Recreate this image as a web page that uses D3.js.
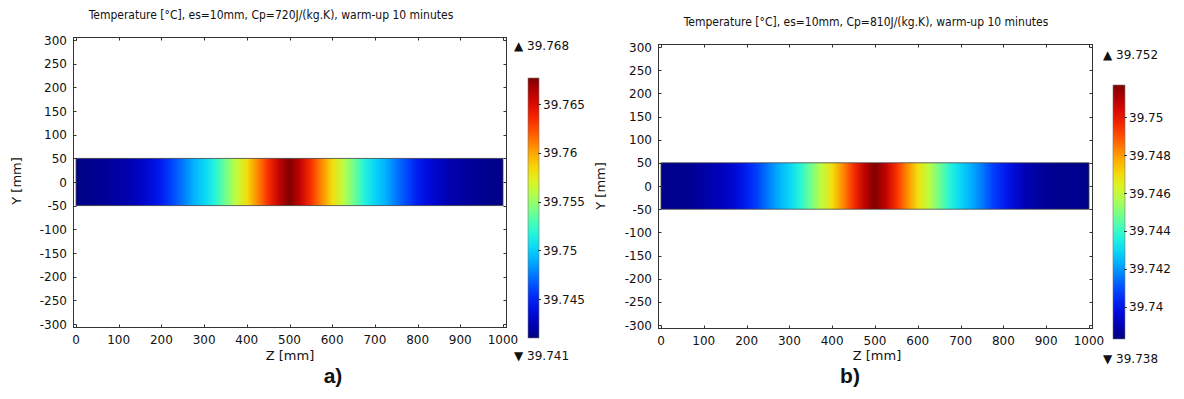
<!DOCTYPE html>
<html><head><meta charset="utf-8">
<script src="https://cdn.jsdelivr.net/npm/d3@7"></script>
<style>body{margin:0;background:#fff}svg{display:block}</style>
</head><body>
<svg id="c" width="1184" height="399"></svg>
<script>
// ---- data ----
const zPos = [0,25,50,75,100,125,150,175,200,225,250,275,300,325,350,375,400,425,450,475,500,
  525,550,575,600,625,650,675,700,725,750,775,800,825,850,875,900,925,950,975,1000];
const tempA = [39.7413,39.7413,39.7415,39.7417,39.7420,39.7423,39.7429,39.7437,39.7447,39.7461,39.7475,
  39.7490,39.7501,39.7517,39.7540,39.7561,39.7582,39.7608,39.7633,39.7658,39.7677,
  39.7658,39.7633,39.7608,39.7582,39.7561,39.7540,39.7517,39.7501,39.7490,39.7475,
  39.7461,39.7447,39.7437,39.7429,39.7423,39.7420,39.7417,39.7415,39.7413,39.7413];
const tempB = [39.7384,39.7385,39.7385,39.7386,39.7388,39.7390,39.7392,39.7396,39.7402,39.7408,39.7416,
  39.7423,39.7429,39.7437,39.7448,39.7459,39.7469,39.7482,39.7495,39.7508,39.7517,
  39.7508,39.7495,39.7482,39.7469,39.7459,39.7448,39.7437,39.7429,39.7423,39.7416,
  39.7408,39.7402,39.7396,39.7390,39.7388,39.7386,39.7385,39.7385,39.7385,39.7384];
const xTicks = [0,100,200,300,400,500,600,700,800,900,1000];
const yTicks = [300,250,200,150,100,50,0,-50,-100,-150,-200,-250,-300];
const cbTicksA = [39.745,39.75,39.755,39.76,39.765];
const cbTicksB = [39.74,39.742,39.744,39.746,39.748,39.75];
const cbRangeA = [39.741,39.7677];
const cbRangeB = [39.7383,39.7517];
const extA = [39.741,39.768];
const extB = [39.738,39.752];
const titleA = "Temperature [°C], es=10mm, Cp=720J/(kg.K), warm-up 10 minutes";
const titleB = "Temperature [°C], es=10mm, Cp=810J/(kg.K), warm-up 10 minutes";
const plateY = [-50,50];
const zDomain = [0,1000], yDomain = [-300,300];

const jet = d3.interpolateRgbBasis(["#00007f","#0000ff","#007fff","#00ffff","#7fff7f","#ffff00","#ff7f00","#ff0000","#7f0000"]);
const svg = d3.select("#c");
const defs = svg.append("defs");
const FONT = "DejaVu Sans";
const TXT = "#111";

function panel(o){
  const g = svg.append("g");
  const x = d3.scaleLinear().domain(zDomain).range([o.fl+3,o.fr-3]);
  const y = d3.scaleLinear().domain(yDomain).range([o.fb-3,o.ft+3]);
  const color = d3.scaleSequential(jet).domain(o.cbRange);
  const gid = "grad"+o.id;
  const lg = defs.append("linearGradient").attr("id",gid)
    .attr("gradientUnits","userSpaceOnUse")
    .attr("x1",x(zDomain[0])).attr("x2",x(zDomain[1])).attr("y1",0).attr("y2",0);
  o.temps.forEach((t,i)=>{
    lg.append("stop").attr("offset",(zPos[i]-zDomain[0])/(zDomain[1]-zDomain[0])).attr("stop-color",color(t));
  });
  g.append("rect").attr("x",x(0)).attr("y",y(plateY[1]))
    .attr("width",x(1000)-x(0)).attr("height",y(plateY[0])-y(plateY[1]))
    .attr("fill","url(#"+gid+")").attr("stroke","#444").attr("stroke-width",0.8);
  g.append("rect").attr("x",o.fl+0.5).attr("y",o.ft+0.5).attr("width",o.fr-o.fl).attr("height",o.fb-o.ft)
    .attr("fill","none").attr("stroke","#333").attr("stroke-width",1);
  const tl = 3;
  xTicks.forEach(v=>{
    const px = Math.round(x(v))+0.5;
    g.append("line").attr("x1",px).attr("x2",px).attr("y1",o.fb+0.5).attr("y2",o.fb+0.5-tl).attr("stroke","#333");
    g.append("line").attr("x1",px).attr("x2",px).attr("y1",o.ft+0.5).attr("y2",o.ft+0.5+tl).attr("stroke","#333");
    g.append("text").attr("x",x(v)).attr("y",o.fb+17).attr("text-anchor","middle")
      .attr("font-family",FONT).attr("font-size",12).attr("fill",TXT).text(v);
  });
  yTicks.forEach(v=>{
    const py = Math.round(y(v))+0.5;
    g.append("line").attr("x1",o.fl+0.5).attr("x2",o.fl+0.5+tl).attr("y1",py).attr("y2",py).attr("stroke","#333");
    g.append("line").attr("x1",o.fr+0.5).attr("x2",o.fr+0.5-tl).attr("y1",py).attr("y2",py).attr("stroke","#333");
    g.append("text").attr("x",o.fl-6).attr("y",y(v)+4.5).attr("text-anchor","end")
      .attr("font-family",FONT).attr("font-size",12).attr("fill",TXT).text(v);
  });
  g.append("text").attr("x",o.titleX).attr("y",o.titleY).attr("text-anchor","middle")
    .attr("font-family","DejaVu Sans Condensed").attr("font-size",12).attr("fill",TXT).text(o.title);
  g.append("text").attr("transform",`translate(${o.ylx},${o.yly}) rotate(-90)`).attr("text-anchor","middle")
    .attr("font-family",FONT).attr("font-size",13).attr("fill",TXT).text("Y [mm]");
  g.append("text").attr("x",o.zlx).attr("y",o.zly).attr("text-anchor","middle")
    .attr("font-family",FONT).attr("font-size",13).attr("fill",TXT).text("Z [mm]");
  g.append("text").attr("x",o.subX).attr("y",383).attr("text-anchor","middle")
    .attr("font-family","Liberation Sans").attr("font-weight","bold").attr("font-size",21).attr("fill","#111").text(o.sub);
  const cy = d3.scaleLinear().domain(o.cbRange).range([o.cb,o.ct]);
  const cid = "cb"+o.id;
  const cg = defs.append("linearGradient").attr("id",cid).attr("x1",0).attr("x2",0).attr("y1",1).attr("y2",0);
  d3.range(0,1.0001,0.05).forEach(t=>cg.append("stop").attr("offset",t).attr("stop-color",jet(t)));
  g.append("rect").attr("x",o.cl).attr("y",o.ct).attr("width",o.cw).attr("height",o.cb-o.ct)
    .attr("fill","url(#"+cid+")").attr("stroke","#777").attr("stroke-width",0.6);
  o.cbTicks.forEach(v=>{
    const py = Math.round(cy(v))+0.5;
    g.append("line").attr("x1",o.cl+o.cw-1).attr("x2",o.cl+o.cw+2).attr("y1",py).attr("y2",py).attr("stroke","#333");
    g.append("text").attr("x",o.cl+o.cw+4).attr("y",cy(v)+4.5)
      .attr("font-family",FONT).attr("font-size",12).attr("fill",TXT).text(v);
  });
  g.append("text").attr("x",o.extX).attr("y",o.maxY+4.5).attr("font-family",FONT).attr("font-size",12).attr("fill","#111")
    .text("\u25B2 "+o.ext[1].toFixed(3));
  g.append("text").attr("x",o.extX).attr("y",o.minY+4.5).attr("font-family",FONT).attr("font-size",12).attr("fill","#111")
    .text("\u25BC "+o.ext[0].toFixed(3));
}

panel({id:"a",fl:73,fr:506,ft:37,fb:327,temps:tempA,cbRange:cbRangeA,cbTicks:cbTicksA,ext:extA,
  title:titleA,titleX:271,titleY:19,ylx:21,yly:181,zlx:290,zly:360,subX:333,sub:"a)",
  cl:528,cw:11,ct:78,cb:338,extX:514,maxY:45,minY:355});
panel({id:"b",fl:658,fr:1092,ft:44,fb:328,temps:tempB,cbRange:cbRangeB,cbTicks:cbTicksB,ext:extB,
  title:titleB,titleX:866,titleY:26,ylx:605,yly:186,zlx:877,zly:360,subX:850,sub:"b)",
  cl:1113,cw:12,ct:85,cb:339,extX:1103,maxY:54,minY:358});
</script>
</body></html>
